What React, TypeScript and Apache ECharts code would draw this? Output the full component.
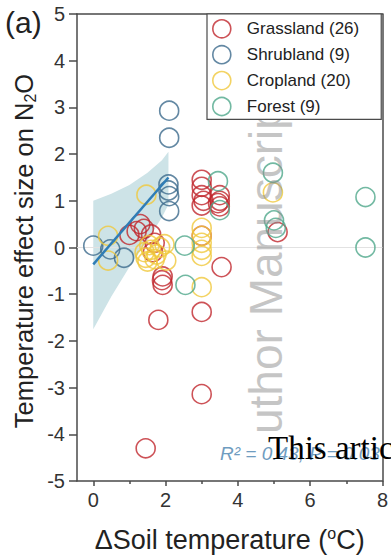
import React, { useEffect, useRef } from 'react';
import * as echarts from 'echarts';

const seriesNames = ['Grassland (26)', 'Shrubland (9)', 'Cropland (20)', 'Forest (9)'];
const seriesColors = ['#c1272d', '#3c6a8c', '#f0c83c', '#4fa88b'];

const grassland = [
  [1.45, -4.3], [3.0, -3.14], [1.8, -1.55], [3.0, -1.38], [1.92, -0.62], [1.92, -0.8],
  [3.55, -0.42], [1.0, 0.27], [1.4, 0.4], [1.6, 0.28], [1.3, 0.5], [3.0, 1.45],
  [3.0, 1.12], [3.0, 0.9], [3.5, 1.12], [3.5, 0.88], [5.1, 0.33], [3.0, 1.3],
  [3.5, 1.0], [1.7, 0.1], [3.0, 0.25], [1.9, -0.7], [1.2, 0.35], [3.05, 1.0],
  [3.45, 0.95], [1.65, -0.1],
];
const shrubland = [
  [2.1, 2.93], [2.1, 2.35], [2.08, 1.35], [2.08, 1.22], [2.1, 1.1], [2.1, 0.78],
  [0.0, 0.04], [0.47, -0.04], [0.85, -0.22],
];
const cropland = [
  [0.41, 0.25], [0.41, -0.28], [1.47, 1.13], [1.42, -0.1], [1.45, -0.22], [1.97, 0.07],
  [2.02, -0.28], [3.0, 0.42], [3.0, 0.1], [3.0, -0.18], [3.0, -0.85], [4.97, 1.18],
  [3.0, 0.25], [1.6, -0.05], [1.75, -0.15], [1.55, 0.05], [1.85, 0.0], [1.5, -0.3],
  [3.0, -0.05], [1.7, -0.25],
];
const forest = [
  [7.53, 1.08], [7.53, 0.0], [4.97, 1.6], [5.0, 0.58], [5.05, 0.42], [3.45, 1.42],
  [3.5, 0.8], [2.53, 0.04], [2.55, -0.8],
];

const fitLine = [[0, -0.36], [2.08, 1.5]];
const bandX = [0, 0.5, 1.0, 1.5, 1.9, 2.08];
const bandUpper = [1.0, 1.15, 1.34, 1.6, 1.87, 2.05];
const bandLower = [-1.75, -1.05, -0.42, 0.15, 0.65, 0.92];

const xMin = -0.45;
const xMax = 8;
const yMin = -5;
const yMax = 5;
const xTickValues = [0, 2, 4, 6, 8];
const xMinorTicks = [1, 3, 5, 7];

const yTitle = 'Temperature effect size on N{sub|2}O';
const xTitle = '\u0394Soil temperature ({sup|o}C)';
const statText = 'R\u00B2 = 0.43, P = 0.03';
const FONT = '"Liberation Sans", Arial, Helvetica, sans-serif';
const AXIS = '#4a4a4a';

export default function App() {
  const ref = useRef<HTMLDivElement>(null);
  useEffect(() => {
    document.body.style.margin = '0';
    if (!ref.current) return;
    const chart = echarts.init(ref.current, undefined, { renderer: 'svg' });
    const lineStyle = { color: AXIS, width: 1.5 };
    const allSeries = [grassland, shrubland, cropland, forest];
    const option: any = {
      animation: false,
      backgroundColor: '#fff',
      grid: { left: 77, right: 6, top: 14, bottom: 71.3, containLabel: false },
      xAxis: [
        {
          type: 'value', min: xMin, max: xMax, position: 'bottom',
          name: xTitle, nameLocation: 'middle', nameGap: 44,
          nameTextStyle: {
            fontFamily: FONT, fontSize: 27, color: '#222',
            rich: { sup: { fontFamily: FONT, fontSize: 16, color: '#222', padding: [0, 0, 13, 0] } },
          },
          axisLine: { show: true, onZero: false, lineStyle },
          axisTick: { show: true, inside: false, length: 5, customValues: xTickValues, lineStyle },
          axisLabel: { customValues: xTickValues, margin: 9, fontSize: 20, fontFamily: FONT, color: '#333' },
          splitLine: { show: false },
        },
        {
          type: 'value', min: xMin, max: xMax, position: 'top',
          axisLine: { show: true, onZero: false, lineStyle },
          axisTick: { show: false }, axisLabel: { show: false }, splitLine: { show: false },
        },
        {
          type: 'value', min: xMin, max: xMax, position: 'bottom',
          axisLine: { show: false, onZero: false },
          axisTick: { show: true, length: 3, customValues: xMinorTicks, lineStyle },
          axisLabel: { show: false }, splitLine: { show: false },
        },
      ],
      yAxis: [
        {
          type: 'value', min: yMin, max: yMax, interval: 1, position: 'left',
          axisLine: { show: true, onZero: false, lineStyle },
          axisTick: { show: true, inside: false, length: 8, lineStyle },
          axisLabel: { margin: 12, fontSize: 20, fontFamily: FONT, color: '#333' },
          splitLine: { show: false },
        },
        {
          type: 'value', min: yMin, max: yMax, interval: 1, position: 'right',
          axisLine: { show: true, onZero: false, lineStyle },
          axisTick: { show: false }, axisLabel: { show: false }, splitLine: { show: false },
        },
      ],
      legend: {
        data: seriesNames, orient: 'vertical', left: 207, top: 14,
        padding: [5, 22, 3, 5], itemGap: 6.3, itemWidth: 30, itemHeight: 18, icon: 'circle',
        backgroundColor: '#fff', borderColor: AXIS, borderWidth: 1.2,
        textStyle: { fontFamily: FONT, fontSize: 17, color: '#222', padding: [0, 0, 0, 5] },
        itemStyle: { borderWidth: 1.6 },
        z: 10,
      },
      series: [
        {
          type: 'custom', data: [[0, 0]], silent: true, z: 1,
          encode: { x: 0, y: 1 },
          renderItem: (_p: any, api: any) => {
            const pts: number[][] = [];
            bandX.forEach((x, i) => pts.push(api.coord([x, bandUpper[i]])));
            for (let i = bandX.length - 1; i >= 0; i--) pts.push(api.coord([bandX[i], bandLower[i]]));
            return { type: 'polygon', shape: { points: pts }, style: { fill: '#cde3e7' } };
          },
        },
        {
          type: 'line', data: [[xMin, 0], [xMax, 0]], symbol: 'none', silent: true, z: 1,
          lineStyle: { color: '#e2e2e2', width: 1.2 },
        },
        ...allSeries.map((d, i) => ({
          type: 'scatter', name: seriesNames[i], data: d, symbol: 'circle', symbolSize: 19,
          itemStyle: { color: 'rgba(0,0,0,0)', borderColor: seriesColors[i], borderWidth: 1.6 },
          z: 2,
        })),
        {
          type: 'line', data: fitLine, symbol: 'none', silent: true, z: 3,
          lineStyle: { color: '#2f7db6', width: 2.5 },
        },
      ],
      graphic: [
        {
          type: 'text', x: 5, y: 22.7, z: 20,
          style: { text: '(a)', fontSize: 30, fontFamily: FONT, fill: '#222', align: 'left', verticalAlign: 'middle', textAlign: 'left', textVerticalAlign: 'middle' },
        },
        {
          type: 'text', x: 24, y: 251, rotation: Math.PI / 2, z: 20,
          style: {
            text: yTitle, fontSize: 25.5, fontFamily: FONT, fill: '#222',
            align: 'center', verticalAlign: 'middle', textAlign: 'center', textVerticalAlign: 'middle',
            rich: { sub: { fontFamily: FONT, fontSize: 16, fill: '#222', padding: [12, 0, 0, 0] } },
          },
        },
        {
          type: 'text', x: 266, y: 434, rotation: Math.PI / 2, z: 5,
          style: { text: 'uthor Manuscript', fontSize: 46, fontFamily: FONT, fill: 'rgba(140,140,140,0.5)', align: 'left', verticalAlign: 'middle', textAlign: 'left', textVerticalAlign: 'middle' },
        },
        {
          type: 'text', x: 220, y: 453.4, z: 6,
          style: { text: statText, fontSize: 19, fontStyle: 'italic', fontFamily: FONT, fill: '#6f9cc0', align: 'left', verticalAlign: 'middle', textAlign: 'left', textVerticalAlign: 'middle' },
        },
        {
          type: 'text', x: 268, y: 448, z: 20,
          style: { text: 'This article is protected by copyright. All rights reserved.', fontSize: 33, fontFamily: '"Liberation Serif", "Times New Roman", serif', fill: '#000', align: 'left', verticalAlign: 'middle', textAlign: 'left', textVerticalAlign: 'middle' },
        },
      ],
    };
    chart.setOption(option);
    return () => chart.dispose();
  }, []);
  return <div ref={ref} style={{ position: 'fixed', left: 0, top: 0, width: 391, height: 558 }} />;
}
